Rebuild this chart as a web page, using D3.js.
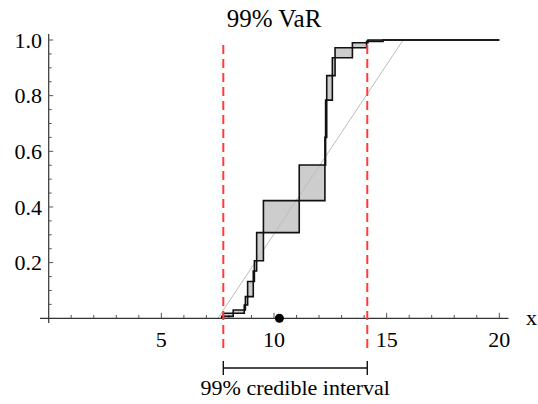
<!DOCTYPE html>
<html>
<head>
<meta charset="utf-8">
<script src="https://cdn.jsdelivr.net/npm/d3@7"></script>
<style>
  body { margin: 0; background: #fff; }
  svg text { font-family: "Liberation Serif", "Times New Roman", Times !important; }
</style>
</head>
<body>
<div class="chart"></div>
<script>
// cumulative probability after each focal step
const levels = [0.007, 0.018, 0.03, 0.048, 0.078, 0.132, 0.17, 0.207, 0.308, 0.423,
                0.551, 0.65, 0.784, 0.872, 0.936, 0.972, 0.990, 0.995, 1.0];
// where the upper (left) bound jumps
const upperX = [7.68, 7.75, 8.19, 8.68, 8.73, 8.83, 9.08, 9.13, 9.23, 9.53,
                11.12, 12.26, 12.29, 12.34, 12.59, 12.71, 13.48, 14.11, 14.17];
// where the lower (right) bound jumps
const lowerX = [7.75, 8.19, 8.68, 8.73, 8.83, 9.08, 9.13, 9.23, 9.53, 11.12,
                12.26, 12.29, 12.34, 12.59, 12.71, 13.48, 14.11, 14.17, 14.84];
const refLine = [[7.51, 0], [15.73, 1]];
const interval = [7.75, 14.14];
const pointX = 10.24;
const xTicks = [5, 10, 15, 20];
const yTicks = [0.2, 0.4, 0.6, 0.8, 1.0];

const width = 538, height = 404;
const font = '"Liberation Serif", monospace';
const x = d3.scaleLinear().domain([0, 20]).range([48.7, 499.3]);
const y = d3.scaleLinear().domain([0, 1]).range([318.3, 40]);

const svg = d3.select('.chart').append('svg')
  .attr('width', width).attr('height', height)
  .attr('font-family', 'Liberation Serif');

// stepped vertices for a bound
const steps = (xs, xEnd) => {
  const pts = [[xs[0], 0]];
  let prev = 0;
  xs.forEach((xv, i) => {
    pts.push([xv, prev]);
    pts.push([xv, levels[i]]);
    prev = levels[i];
  });
  pts.push([xEnd, prev]);
  return pts;
};
const up = steps(upperX, lowerX[lowerX.length - 1]);
const lo = steps(lowerX, lowerX[lowerX.length - 1]);
const line = d3.line().x(d => x(d[0])).y(d => y(d[1]));

// band between bounds
svg.append('path')
  .attr('d', line(up.concat(lo.slice().reverse())) + 'Z')
  .attr('fill', '#cdcdcd').attr('stroke', 'none');

// reference cdf
svg.append('path')
  .attr('d', line([refLine[0], refLine[1], [20, 1]]))
  .attr('fill', 'none').attr('stroke', '#bdbdbd').attr('stroke-width', 1);

// axes
const axisCol = '#333';
svg.append('line')
  .attr('x1', 40).attr('x2', 508.5).attr('y1', y(0)).attr('y2', y(0))
  .attr('stroke', axisCol).attr('stroke-width', 1.2);
svg.append('line')
  .attr('x1', x(0)).attr('x2', x(0)).attr('y1', 34).attr('y2', 323)
  .attr('stroke', axisCol).attr('stroke-width', 1.2);

const xMinor = d3.range(1, 21).filter(v => v % 5 !== 0);
svg.selectAll('.xminor').data(xMinor).enter().append('line')
  .attr('x1', d => x(d)).attr('x2', d => x(d))
  .attr('y1', y(0)).attr('y2', y(0) - 3.3)
  .attr('stroke', '#555').attr('stroke-width', 1);
svg.selectAll('.xmajor').data(xTicks).enter().append('line')
  .attr('x1', d => x(d)).attr('x2', d => x(d))
  .attr('y1', y(0)).attr('y2', y(0) - 5.5)
  .attr('stroke', '#555').attr('stroke-width', 1);
svg.selectAll('.xlab').data(xTicks).enter().append('text')
  .attr('x', d => x(d)).attr('y', 346.5)
  .attr('text-anchor', 'middle').attr('font-size', '22px')
  .style('font-family', font)
  .text(d => d);

const yMinor = d3.range(1, 21).map(v => v * 0.05).filter((v, i) => (i + 1) % 4 !== 0);
svg.selectAll('.yminor').data(yMinor).enter().append('line')
  .attr('x1', x(0)).attr('x2', x(0) + 3)
  .attr('y1', d => y(d)).attr('y2', d => y(d))
  .attr('stroke', '#555').attr('stroke-width', 1);
svg.selectAll('.ymajor').data(yTicks).enter().append('line')
  .attr('x1', x(0)).attr('x2', x(0) + 4.5)
  .attr('y1', d => y(d)).attr('y2', d => y(d))
  .attr('stroke', '#555').attr('stroke-width', 1);
svg.selectAll('.ylab').data(yTicks).enter().append('text')
  .attr('x', 42).attr('y', d => y(d) + 7.8)
  .attr('text-anchor', 'end').attr('font-size', '22px')
  .style('font-family', font)
  .text(d => d.toFixed(1));

svg.append('text').attr('x', 526).attr('y', 325)
  .attr('font-size', '22px').style('font-family', font).text('x');

// bounds
[up, lo].forEach(pts => {
  svg.append('path')
    .attr('d', line(pts.concat([[20, 1]])))
    .attr('fill', 'none').attr('stroke', '#111')
    .attr('stroke-width', 1.6).attr('stroke-linejoin', 'miter');
});

// credible interval
interval.forEach(v => {
  svg.append('line')
    .attr('x1', x(v)).attr('x2', x(v)).attr('y1', 45).attr('y2', 352)
    .attr('stroke', '#ff3b3b').attr('stroke-width', 2)
    .attr('stroke-dasharray', '9,5');
});
const by = 368;
svg.append('path')
  .attr('d', `M${x(interval[0])},${by - 7}V${by + 7}M${x(interval[0])},${by}H${x(interval[1])}M${x(interval[1])},${by - 7}V${by + 7}`)
  .attr('fill', 'none').attr('stroke', '#111').attr('stroke-width', 1.4);
svg.append('text')
  .attr('x', (x(interval[0]) + x(interval[1])) / 2).attr('y', 395)
  .attr('text-anchor', 'middle').attr('font-size', '22px')
  .style('font-family', font)
  .text('99% credible interval');

svg.append('circle')
  .attr('cx', x(pointX)).attr('cy', y(0)).attr('r', 4.5)
  .attr('fill', '#000');

svg.append('text')
  .attr('x', 274).attr('y', 26.5)
  .attr('text-anchor', 'middle').attr('font-size', '25px')
  .style('font-family', font)
  .text('99% VaR');
</script>
</body>
</html>
